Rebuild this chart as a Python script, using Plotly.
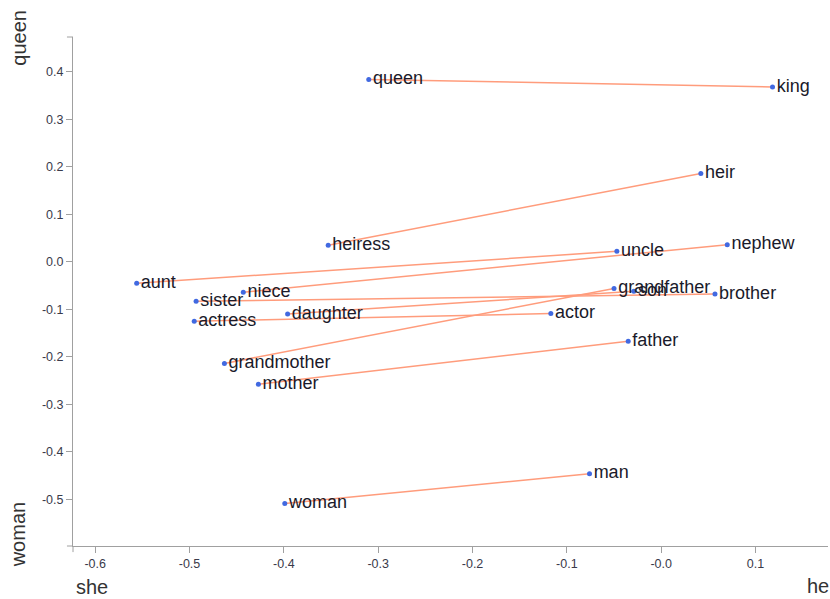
import plotly.graph_objects as go

# Word embeddings projected onto the she→he and woman→queen directions
words = ["queen", "king", "heiress", "heir", "aunt", "uncle", "niece", "nephew",
         "sister", "brother", "actress", "actor", "daughter", "son",
         "grandmother", "grandfather", "mother", "father", "woman", "man"]
x_vals = [-0.310, 0.118, -0.353, 0.042, -0.556, -0.047, -0.443, 0.070,
          -0.493, 0.057, -0.495, -0.117, -0.396, -0.029,
          -0.463, -0.050, -0.427, -0.035, -0.399, -0.076]
y_vals = [0.384, 0.368, 0.035, 0.186, -0.045, 0.022, -0.064, 0.036,
          -0.083, -0.068, -0.125, -0.109, -0.110, -0.062,
          -0.214, -0.056, -0.258, -0.167, -0.509, -0.446]

# Female/male pairs joined by a line
pairs = [("queen", "king"), ("heiress", "heir"), ("aunt", "uncle"),
         ("niece", "nephew"), ("sister", "brother"), ("actress", "actor"),
         ("daughter", "son"), ("grandmother", "grandfather"),
         ("mother", "father"), ("woman", "man")]

x_ticks = [-0.6, -0.5, -0.4, -0.3, -0.2, -0.1, 0.0, 0.1]
x_tick_text = ["-0.6", "-0.5", "-0.4", "-0.3", "-0.2", "-0.1", "-0.0", "0.1"]
y_ticks = [0.4, 0.3, 0.2, 0.1, 0.0, -0.1, -0.2, -0.3, -0.4, -0.5]
y_tick_text = ["0.4", "0.3", "0.2", "0.1", "0.0", "-0.1", "-0.2", "-0.3", "-0.4", "-0.5"]

pos = {w: (x, y) for w, x, y in zip(words, x_vals, y_vals)}
lx, ly = [], []
for a, b in pairs:
    lx += [pos[a][0], pos[b][0], None]
    ly += [pos[a][1], pos[b][1], None]

fig = go.Figure()
fig.add_trace(go.Scatter(
    x=lx, y=ly, mode="lines",
    line=dict(color="#ff9c7c", width=1.5),
    hoverinfo="skip", showlegend=False,
))
fig.add_trace(go.Scatter(
    x=x_vals, y=y_vals, mode="markers+text",
    text=words, textposition="middle right",
    marker=dict(color="#4169e1", size=5),
    textfont=dict(family="Liberation Sans, Arial, sans-serif", size=18, color="#1a1a2a"),
    showlegend=False,
))

axis_common = dict(
    showgrid=False, zeroline=False, showline=True,
    linecolor="#a0a0a0", linewidth=1,
    ticks="outside", ticklen=6, tickcolor="#a0a0a0", tickwidth=1,
    tickfont=dict(family="Liberation Sans, Arial, sans-serif", size=12.5, color="#3a3a4a"),
)

fig.update_layout(
    width=830, height=599,
    margin=dict(l=73, r=2, t=37, b=53),
    paper_bgcolor="white", plot_bgcolor="white",
    xaxis=dict(range=[-0.6235, 0.1768], tickvals=x_ticks, ticktext=x_tick_text, **axis_common),
    yaxis=dict(range=[-0.5983, 0.4733], tickvals=y_ticks, ticktext=y_tick_text, **axis_common),
)

# Outer ticks at the ends of the axis lines
tick_style = dict(color="#a0a0a0", width=1)
fig.add_shape(type="line", xref="paper", yref="paper", x0=-0.008, x1=0, y0=1, y1=1, line=tick_style)
fig.add_shape(type="line", xref="paper", yref="paper", x0=-0.008, x1=0, y0=0, y1=0, line=tick_style)
fig.add_shape(type="line", xref="paper", yref="paper", x0=0, x1=0, y0=0, y1=-0.012, line=tick_style)

title_font = dict(family="Liberation Sans, Arial, sans-serif", size=20, color="#333333")
fig.add_annotation(text="queen", xref="paper", yref="paper", x=-0.072, y=0.998,
                   textangle=-90, showarrow=False, xanchor="center", yanchor="middle", font=title_font)
fig.add_annotation(text="woman", xref="paper", yref="paper", x=-0.0728, y=0.021,
                   textangle=-90, showarrow=False, xanchor="center", yanchor="middle", font=title_font)
fig.add_annotation(text="she", xref="paper", yref="paper", x=0.0254, y=-0.081,
                   showarrow=False, xanchor="center", yanchor="middle", font=title_font)
fig.add_annotation(text="he", xref="paper", yref="paper", x=0.9868, y=-0.079,
                   showarrow=False, xanchor="center", yanchor="middle", font=title_font)

fig.write_html("out.html")
